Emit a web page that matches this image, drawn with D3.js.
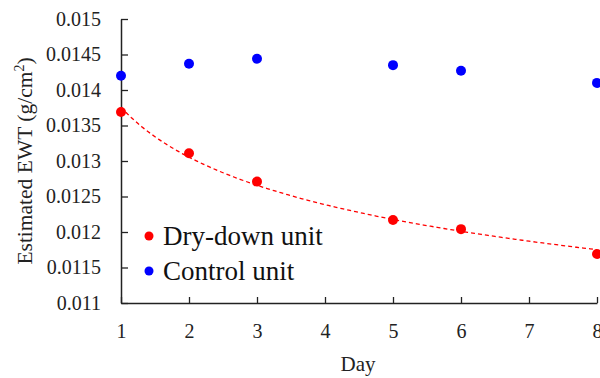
<!DOCTYPE html>
<html><head><meta charset="utf-8">
<script src="https://cdn.jsdelivr.net/npm/d3@7"></script>
<style>
body{margin:0;background:#fff;}
svg{display:block;}
</style></head>
<body>
<svg id="c" width="600" height="378"></svg>
<script>
const days = [1, 2, 3, 5, 6, 8];
const dryDown = [0.01369, 0.01311, 0.01271, 0.01217, 0.01204, 0.01169];
const control = [0.01420, 0.01437, 0.01444, 0.01435, 0.01427, 0.01410];
const xTicks = [1, 2, 3, 4, 5, 6, 7, 8];
const yTicks = [0.011, 0.0115, 0.012, 0.0125, 0.013, 0.0135, 0.014, 0.0145, 0.015];
const yTickLabels = ["0.011", "0.0115", "0.012", "0.0125", "0.013", "0.0135", "0.014", "0.0145", "0.015"];
const seriesNames = ["Dry-down unit", "Control unit"];
const seriesColors = ["#ff0000", "#0000ff"];
const FONT = '"Liberation Serif", "Times New Roman", serif';

const svg = d3.select("#c");
const x = d3.scaleLinear().domain([1, 8]).range([121, 597]);
const y = d3.scaleLinear().domain([0.011, 0.015]).range([303, 19]);

// axes
const yAxis = d3.axisLeft(y).tickValues(yTicks).tickSizeInner(-7).tickSizeOuter(0)
  .tickFormat((d, i) => yTickLabels[i]).tickPadding(20);
const gy = svg.append("g").attr("transform", "translate(121,0)").call(yAxis);
const xAxis = d3.axisBottom(x).tickValues(xTicks).tickSizeInner(-6).tickSizeOuter(0)
  .tickFormat(d3.format("d")).tickPadding(21);
const gx = svg.append("g").attr("transform", "translate(0,303)").call(xAxis);
[gx, gy].forEach(g => {
  g.attr("font-family", null);
  g.select(".domain").attr("stroke", "#222").attr("stroke-width", 1.5);
  g.selectAll(".tick line").attr("stroke", "#222").attr("stroke-width", 1.3);
  g.selectAll("text").style("font-family", FONT).attr("font-size", 20).attr("fill", "#222");
});
gy.selectAll(".tick text").attr("x", -20);

// power trend line fitted from dry-down data
const lx = days.map(Math.log), ly = dryDown.map(Math.log);
const mx = d3.mean(lx), my = d3.mean(ly);
const b = d3.sum(lx.map((v, i) => (v - mx) * (ly[i] - my))) / d3.sum(lx.map(v => (v - mx) ** 2));
const a = Math.exp(my - b * mx);
const trend = d3.range(1, 8.001, 0.05).map(t => [t, a * Math.pow(t, b)]);
svg.append("path").datum(trend)
  .attr("d", d3.line().x(d => x(d[0])).y(d => y(d[1])))
  .attr("fill", "none").attr("stroke", "#ff0000").attr("stroke-width", 1.3)
  .attr("stroke-dasharray", "4,3");

// points
[dryDown, control].forEach((vals, si) => {
  svg.append("g").selectAll("circle").data(vals).join("circle")
    .attr("cx", (d, i) => x(days[i])).attr("cy", d => y(d))
    .attr("r", 5).attr("fill", seriesColors[si]);
});

// legend
seriesNames.forEach((name, i) => {
  const ly0 = 236 + i * 35;
  svg.append("circle").attr("cx", 149).attr("cy", ly0).attr("r", 4.5).attr("fill", seriesColors[i]);
  svg.append("text").attr("x", 163).attr("y", ly0 + 9).attr("font-size", 27)
    .style("font-family", FONT).attr("fill", "#111").text(name);
});

// axis titles
svg.append("text").attr("x", 358).attr("y", 371).attr("text-anchor", "middle")
  .style("font-family", FONT).attr("fill", "#222").attr("font-size", 21).text("Day");
const yt = svg.append("text").attr("transform", "translate(32,161) rotate(-90)")
  .style("font-family", FONT).attr("fill", "#222")
  .attr("text-anchor", "middle").attr("font-size", 21.5);
yt.append("tspan").text("Estimated EWT (g/cm");
yt.append("tspan").attr("font-size", 14).attr("dy", -8).text("2");
yt.append("tspan").attr("dy", 8).text(")");
</script>
</body></html>
